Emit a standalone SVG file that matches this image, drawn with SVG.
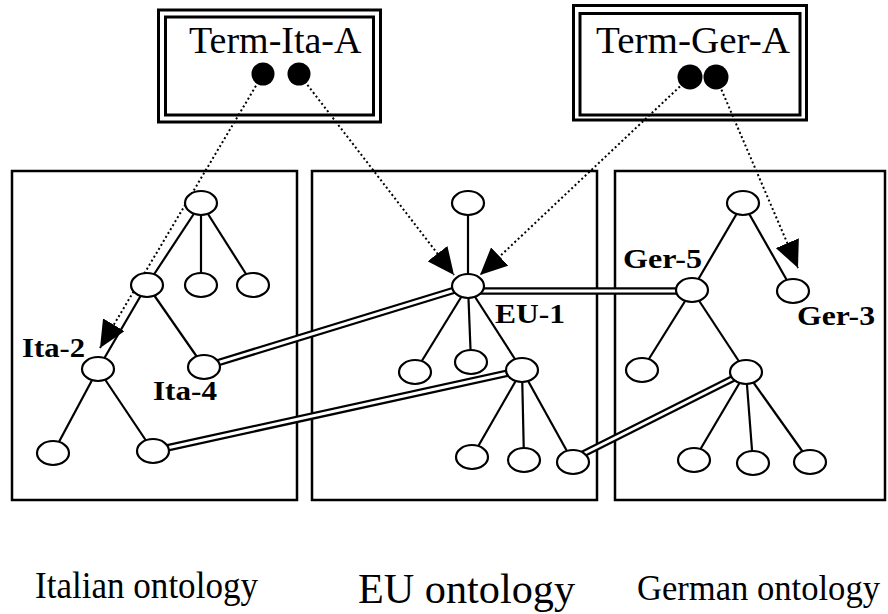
<svg xmlns="http://www.w3.org/2000/svg" width="888" height="614" viewBox="0 0 888 614">
<style>
.panel{fill:none;stroke:#000;stroke-width:2.5}
.edge{stroke:#000;stroke-width:2.2;fill:none}
.n{fill:#fff;stroke:#000;stroke-width:2.2}
.dbo{stroke:#000;stroke-width:7.5;fill:none}
.dbi{stroke:#fff;stroke-width:3;fill:none}
.dot{stroke:#000;stroke-width:2;stroke-dasharray:2 2.6;fill:none}
.tb{fill:#fff;stroke:#000;stroke-width:3}
.tbi{fill:none;stroke:#000;stroke-width:3}
.term{font-family:"Liberation Serif","Times New Roman",serif;font-size:38px;fill:#000}
.lbl{font-family:"Liberation Serif","Times New Roman",serif;font-size:28px;font-weight:bold;fill:#000}
.cap{font-family:"Liberation Serif","Times New Roman",serif;fill:#000}
</style>
<defs>
<marker id="ah" markerWidth="27" markerHeight="25" refX="27" refY="12.5" orient="auto" markerUnits="userSpaceOnUse">
<path d="M0,0 L27,12.5 L0,25 z" fill="#000"/>
</marker>
</defs>
<rect width="888" height="614" fill="#fff"/>

<g id="panel-ita"><rect class="panel" x="12" y="171" width="285" height="329"/></g>
<g id="panel-eu"><rect class="panel" x="312" y="171" width="285" height="329"/></g>
<g id="panel-ger"><rect class="panel" x="615" y="171" width="270" height="329"/></g>

<g id="term-ita">
<rect class="tb" x="158.5" y="10" width="222" height="112"/>
<rect class="tbi" x="165.5" y="17" width="208" height="98"/>
<text class="term" x="189" y="53">Term-Ita-A</text>
<circle cx="263" cy="74" r="11.5"/>
<circle cx="299" cy="74" r="11.5"/>
</g>
<g id="term-ger">
<rect class="tb" x="573.5" y="5.5" width="233" height="114.5"/>
<rect class="tbi" x="580" y="13.5" width="220" height="101.5"/>
<text class="term" x="596" y="53" textLength="194" lengthAdjust="spacingAndGlyphs">Term-Ger-A</text>
<circle cx="690" cy="77" r="12.5"/>
<circle cx="716" cy="77" r="12.5"/>
</g>

<g id="connectors">
<!-- Italian tree -->
<line class="edge" x1="201" y1="203" x2="147" y2="285"/>
<line class="edge" x1="201" y1="203" x2="201" y2="285"/>
<line class="edge" x1="201" y1="203" x2="253" y2="285"/>
<line class="edge" x1="147" y1="285" x2="98" y2="369"/>
<line class="edge" x1="147" y1="285" x2="204" y2="367"/>
<line class="edge" x1="98" y1="369" x2="53" y2="453"/>
<line class="edge" x1="98" y1="369" x2="153" y2="451"/>
<!-- EU tree -->
<line class="edge" x1="468" y1="203" x2="468" y2="286"/>
<line class="edge" x1="468" y1="286" x2="415" y2="372"/>
<line class="edge" x1="468" y1="286" x2="471" y2="362"/>
<line class="edge" x1="468" y1="286" x2="522" y2="370"/>
<line class="edge" x1="522" y1="370" x2="472" y2="457"/>
<line class="edge" x1="522" y1="370" x2="524" y2="460"/>
<line class="edge" x1="522" y1="370" x2="573" y2="462"/>
<!-- German tree -->
<line class="edge" x1="743" y1="203" x2="692" y2="290"/>
<line class="edge" x1="743" y1="203" x2="793" y2="291"/>
<line class="edge" x1="692" y1="290" x2="642" y2="370"/>
<line class="edge" x1="692" y1="290" x2="746" y2="372"/>
<line class="edge" x1="746" y1="372" x2="694" y2="460"/>
<line class="edge" x1="746" y1="372" x2="753" y2="463"/>
<line class="edge" x1="746" y1="372" x2="810" y2="462"/>
<!-- mapping double lines -->
<line class="dbo" x1="204" y1="367" x2="468" y2="286"/>
<line class="dbi" x1="204" y1="367" x2="468" y2="286"/>
<line class="dbo" x1="153" y1="451" x2="522" y2="370"/>
<line class="dbi" x1="153" y1="451" x2="522" y2="370"/>
<line class="dbo" x1="468" y1="291" x2="692" y2="291"/>
<line class="dbi" x1="468" y1="291" x2="692" y2="291"/>
<line class="dbo" x1="573" y1="459" x2="746" y2="372"/>
<line class="dbi" x1="573" y1="459" x2="746" y2="372"/>
<!-- dotted term links -->
<line class="dot" x1="263" y1="74" x2="100" y2="348" marker-end="url(#ah)"/>
<line class="dot" x1="299" y1="74" x2="454" y2="275" marker-end="url(#ah)"/>
<line class="dot" x1="690" y1="77" x2="480" y2="275" marker-end="url(#ah)"/>
<line class="dot" x1="716" y1="77" x2="798" y2="268" marker-end="url(#ah)"/>
</g>

<g id="ita-root"><ellipse class="n" cx="201" cy="203" rx="16" ry="12"/></g>
<g id="ita-a"><ellipse class="n" cx="147" cy="285" rx="16" ry="12"/></g>
<g id="ita-b"><ellipse class="n" cx="201" cy="285" rx="16" ry="12"/></g>
<g id="ita-c"><ellipse class="n" cx="253" cy="285" rx="16" ry="12"/></g>
<g id="ita-2"><ellipse class="n" cx="98" cy="369" rx="16" ry="12"/><text class="lbl" x="22" y="357" textLength="63" lengthAdjust="spacingAndGlyphs">Ita-2</text></g>
<g id="ita-4"><ellipse class="n" cx="204" cy="367" rx="16" ry="12"/><text class="lbl" x="153" y="400" textLength="64" lengthAdjust="spacingAndGlyphs">Ita-4</text></g>
<g id="ita-d"><ellipse class="n" cx="53" cy="453" rx="16" ry="12"/></g>
<g id="ita-e"><ellipse class="n" cx="153" cy="451" rx="16" ry="12"/></g>

<g id="eu-root"><ellipse class="n" cx="468" cy="203" rx="16" ry="12"/></g>
<g id="eu-1"><ellipse class="n" cx="468" cy="286" rx="16" ry="12"/><text class="lbl" x="495" y="323" textLength="70" lengthAdjust="spacingAndGlyphs">EU-1</text></g>
<g id="eu-a"><ellipse class="n" cx="415" cy="372" rx="16" ry="12"/></g>
<g id="eu-b"><ellipse class="n" cx="471" cy="362" rx="16" ry="12"/></g>
<g id="eu-c"><ellipse class="n" cx="522" cy="370" rx="16" ry="12"/></g>
<g id="eu-d"><ellipse class="n" cx="472" cy="457" rx="16" ry="12"/></g>
<g id="eu-e"><ellipse class="n" cx="524" cy="460" rx="16" ry="12"/></g>
<g id="eu-f"><ellipse class="n" cx="573" cy="462" rx="16" ry="12"/></g>

<g id="ger-root"><ellipse class="n" cx="743" cy="203" rx="16" ry="12"/></g>
<g id="ger-5"><ellipse class="n" cx="692" cy="290" rx="16" ry="12"/><text class="lbl" x="623" y="268" textLength="79" lengthAdjust="spacingAndGlyphs">Ger-5</text></g>
<g id="ger-3"><ellipse class="n" cx="793" cy="291" rx="16" ry="12"/><text class="lbl" x="797" y="325" textLength="78" lengthAdjust="spacingAndGlyphs">Ger-3</text></g>
<g id="ger-a"><ellipse class="n" cx="642" cy="370" rx="16" ry="12"/></g>
<g id="ger-b"><ellipse class="n" cx="746" cy="372" rx="16" ry="12"/></g>
<g id="ger-c"><ellipse class="n" cx="694" cy="460" rx="16" ry="12"/></g>
<g id="ger-d"><ellipse class="n" cx="753" cy="463" rx="16" ry="12"/></g>
<g id="ger-e"><ellipse class="n" cx="810" cy="462" rx="16" ry="12"/></g>

<g id="captions">
<text class="cap" x="35" y="598" font-size="37" textLength="223" lengthAdjust="spacingAndGlyphs">Italian ontology</text>
<text class="cap" x="358" y="603" font-size="42" textLength="217" lengthAdjust="spacingAndGlyphs">EU ontology</text>
<text class="cap" x="637" y="600" font-size="35" textLength="243" lengthAdjust="spacingAndGlyphs">German ontology</text>
</g>
</svg>
